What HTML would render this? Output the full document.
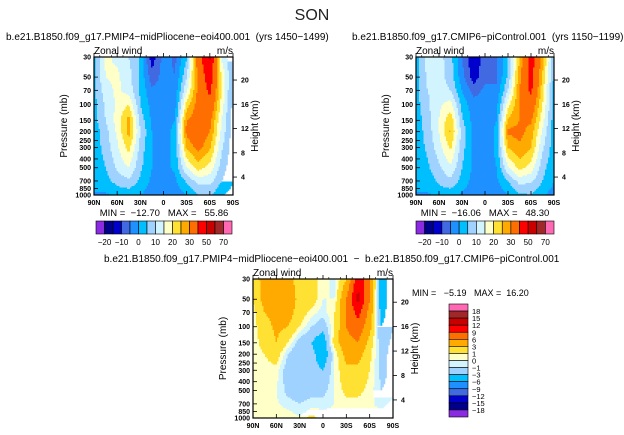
<!DOCTYPE html>
<html><head><meta charset="utf-8"><style>
body{margin:0;background:#fff;}
svg{display:block;font-family:"Liberation Sans",Arial,sans-serif;}
text{white-space:pre;}
</style></head><body>
<svg id="chart" width="624" height="435" viewBox="0 0 624 435" xmlns="http://www.w3.org/2000/svg">
<rect width="624" height="435" fill="#fff"/>
<text x="312" y="20" font-size="16" text-anchor="middle" fill="#222">SON</text>
<g id="root"></g>
</svg>
<script>
// ---- data ----
const lats = ["90N","75N","60N","45N","30N","15N","0","15S","30S","45S","60S","75S","90S"];
const levels = [30,50,70,100,150,200,300,500,700,850,1000];
const plioWind = [
[4,16,14,10,4,-13,-3,-6,4,35,52,14,5],
[4,15,16,12,4,-8,-3,-5,10,32,46,20,4],
[4,13,16,13,4,-4,-3,-3,14,32,42,20,3],
[3,11,16,20,5,-2,-3,-2,22,33,38,18,3],
[3,10,17,27,8,-1,-3,0,30,34,32,15,2],
[2,8,16,27,10,0,-3,2,32,36,30,14,2],
[2,7,14,22,8,0,-3,2,26,32,26,11,2],
[1,5,11,15,6,0,-2,1,15,22,18,8,1],
[1,3,7,9,4,-1,-3,-1,6,12,12,5,0],
[0,1,4,5,2,-2,-4,-2,3,8,8,3,-1],
[0,-1,2,3,0,-3,-5,-4,0,5,6,1,-3]];
const piWind = [
[3,12,12,7,-5,-14,-8,-6,5,25,45,28,5],
[3,11,12,8,-3,-13,-6,-6,6,28,44,24,4],
[3,10,12,10,0,-7,-4,-4,10,30,42,22,3],
[3,9,14,17,3,-3,-3,-2,18,30,36,20,3],
[2,8,15,24,6,-2,-3,0,26,30,31,17,2],
[2,7,15,26,8,-1,-3,1,31,32,28,14,2],
[2,6,13,21,7,-1,-3,1,25,29,25,11,2],
[1,4,9,14,5,-1,-3,0,14,22,18,7,1],
[1,2,6,9,3,-2,-3,-1,5,12,11,5,0],
[0,1,4,5,1,-2,-4,-2,2,8,7,3,-1],
[0,-1,2,3,-1,-3,-5,-4,0,4,5,1,-3]];
const diffWind = [
[1,4.5,4.5,4,2,1.5,0.5,-0.5,3,11,7,-5,-1],
[1,4,4.5,4,2.5,2,0,0,6,13,6,-5,-1],
[0.5,3,4,4,2,0.5,-0.5,1,6,10,5,-4,-1],
[0.5,2,3.5,3,1,-1,-2,1,6,8,4,-3,-1],
[0.5,1.5,3,1,-2,-3,-5,2,5,6,2,-2,-0.5],
[0.5,1,2,-1,-3,-2,-5,0,4,4,1.5,-1.5,-0.5],
[0.5,0.5,0.5,-2,-3,-2,-3,0,2.5,2.5,1,-1.5,-0.5],
[0.3,0.2,0,-1.5,-2,-1.5,-1.5,0,1.5,1.5,0.5,-1,-0.5],
[0.2,0.2,0.2,-0.5,-1,-0.5,-0.5,0,0.5,0.5,0.3,-0.5,0.5],
[0.2,0.2,0.3,0.2,-0.5,0.5,0.2,0.2,0.3,0.5,0.2,0.3,0.5],
[0.2,0.2,0.3,0.3,0.3,1.5,0.3,0.2,0.3,0.5,0.5,0.5,1]];
const meanBounds = [-20,-15,-10,-5,0,5,10,15,20,25,30,40,50,60,70];
const meanTickLabels = ["-20","-10","0","10","20","30","50","70"];
const diffBounds = [-18,-15,-12,-9,-6,-3,-1,0,1,3,6,9,12,15,18];
const pTicks = [30,50,70,100,150,200,250,300,400,500,700,850,1000];
const zTicks = [4,8,12,16,20];
const xTicks = ["90N","60N","30N","0","30S","60S","90S"];
const colors = ["#8a2be2","#00008b","#0000cd","#4169e1","#1e90ff","#00bfff","#a0d2ff","#d2f4ff","#ffffc8","#ffe133","#ffaa00","#ff6e00","#ff0000","#c80000","#a02828","#ff69b4"];

const NS="http://www.w3.org/2000/svg";
const root=document.getElementById('root');
function el(tag,attrs,parent){const e=document.createElementNS(NS,tag);for(const k in attrs)e.setAttribute(k,attrs[k]);(parent||root).appendChild(e);return e;}
function txt(x,y,s,size,anchor,parent,extra){const t=el('text',Object.assign({x:x,y:y,'font-size':size,'text-anchor':anchor||'start',fill:'#000'},extra||{}),parent);t.textContent=s;return t;}
const lnP=p=>Math.log(p);
function colorFor(v,b){let i=0;while(i<b.length&&v>=b[i])i++;return colors[i];}
function interp(grid,fx,lp){
  let j=0;while(j<levels.length-2&&lp>lnP(levels[j+1]))j++;
  let t=(lp-lnP(levels[j]))/(lnP(levels[j+1])-lnP(levels[j]));t=Math.max(0,Math.min(1,t));
  let i=Math.min(11,Math.floor(fx));let s=fx-i;
  const a=grid[j][i]*(1-s)+grid[j][i+1]*s, b=grid[j+1][i]*(1-s)+grid[j+1][i+1]*s;
  return a*(1-t)+b*t;
}
function panel(name,grid,bounds,x0,x1,y0,y1){
  const g=el('g',{});
  
  
  const yOf=p=>y0+(lnP(p)-lnP(30))/(lnP(1000)-lnP(30))*(y1-y0);
  const step=1.5;
  for(let y=y0;y<y1;y+=step){
    const lp=lnP(30)+((y+step/2-y0)/(y1-y0))*(lnP(1000)-lnP(30));
    let runX=x0,runC=null;
    for(let x=x0;x<=x1;x+=step){
      let c=null;
      if(x<x1){const fx=(x+step/2-x0)/(x1-x0)*12;c=colorFor(interp(grid,Math.min(11.999,fx),lp),bounds);}
      if(c!==runC){
        if(runC!==null){const r=el('rect',{x:runX,y:y,width:Math.min(x,x1)-runX+0.3,height:Math.min(step+0.3,y1-y),fill:runC},g);
          
          }
        runC=c;runX=x;
      }
    }
  }
  const frame=el('rect',{x:x0,y:y0,width:x1-x0,height:y1-y0,fill:'none',stroke:'#000','stroke-width':1.2},g);
  
  
  pTicks.forEach(p=>{const y=yOf(p);
    el('line',{x1:x0,y1:y,x2:x0+4,y2:y,stroke:'#000','stroke-width':0.8},g);
    const t=txt(x0-3,y+2.5,String(p),7,'end',g,{'font-weight':'bold'});
    
    });
  zTicks.forEach(z=>{const p=1174*Math.exp(-z/6.49);const y=yOf(p);
    el('line',{x1:x1,y1:y,x2:x1+4,y2:y,stroke:'#000','stroke-width':0.8},g);
    const t=txt(x1+8,y+2.5,String(z),7,'start',g,{'font-weight':'bold'});
    
    });
  xTicks.forEach((s,k)=>{const x=x0+k*(x1-x0)/6;
    el('line',{x1:x,y1:y1,x2:x,y2:y1-4,stroke:'#000','stroke-width':0.8},g);
    el('line',{x1:x,y1:y0,x2:x,y2:y0-4,stroke:'#000','stroke-width':0.8},g);
    const t=txt(x,y1+10,s,7,'middle',g,{'font-weight':'bold'});
    
    });
  for(let k=0;k<12;k++){const x=x0+(k+0.5)*(x1-x0)/12;el('line',{x1:x,y1:y0,x2:x,y2:y0-2,stroke:'#000','stroke-width':0.6},g);}
  const a=txt(x0,y0-3,'Zonal wind',10,'start',g);
  const u=txt(x1,y0-3,'m/s',10,'end',g);
  const yc=(y0+y1)/2;
  const pl=txt(0,0,'Pressure (mb)',10,'middle',g,{transform:`translate(${x0-27},${yc}) rotate(-90)`});
  
  const hl=txt(0,0,'Height (km)',10,'middle',g,{transform:`translate(${x1+25},${yc}) rotate(-90)`});
  
}
function hbar(name,x0,x1,y0,y1){
  const g=el('g',{});
  const w=(x1-x0)/16;
  colors.forEach((c,i)=>{const r=el('rect',{x:x0+i*w,y:y0,width:w,height:y1-y0,fill:c,stroke:'#000','stroke-width':0.6},g);
    });
  meanTickLabels.forEach((s,k)=>{const t=txt(x0+(2*k+1)*w,y1+11,s.replace('-','\u2212'),8,'middle',g);
    });
}
function vbar(name,x0,x1,y0,y1){
  const g=el('g',{});
  const h=(y1-y0)/16;
  colors.slice().reverse().forEach((c,i)=>{const r=el('rect',{x:x0,y:y0+i*h,width:x1-x0,height:h,fill:c,stroke:'#000','stroke-width':0.6},g);
    });
  diffBounds.slice().reverse().forEach((b,k)=>{const t=txt(x1+4,y0+(k+1)*h+3,String(b).replace('-','\u2212'),7.5,'start',g);
    });
}
panel('plio-panel',plioWind,meanBounds,94,233,57,195);
panel('picontrol-panel',piWind,meanBounds,416,554,57,195);
panel('difference-panel',diffWind,diffBounds,253,393,279,418);
hbar('plio-colorbar',96,232,221,234);
hbar('picontrol-colorbar',416,554,221,234);
vbar('difference-colorbar',449,468,304,417);
const labels=[
 [6,40,'b.e21.B1850.f09_g17.PMIP4\u2212midPliocene\u2212eoi400.001  (yrs 1450\u22121499)',10,'start','plio-title'],
 [352,40,'b.e21.B1850.f09_g17.CMIP6\u2212piControl.001  (yrs 1150\u22121199)',10,'start','picontrol-title'],
 [104,262,'b.e21.B1850.f09_g17.PMIP4\u2212midPliocene\u2212eoi400.001  \u2212  b.e21.B1850.f09_g17.CMIP6\u2212piControl.001',10,'start','difference-title'],
 [164,216,'MIN =  \u221212.70   MAX =   55.86',9.5,'middle','plio-minmax'],
 [485,216,'MIN =  \u221216.06   MAX =   48.30',9.5,'middle','picontrol-minmax'],
 [412,296,'MIN =   \u22125.19   MAX =  16.20',9,'start','difference-minmax']];
labels.forEach(l=>{const t=txt(l[0],l[1],l[2],l[3],l[4]);
  });
</script>
</body></html>
